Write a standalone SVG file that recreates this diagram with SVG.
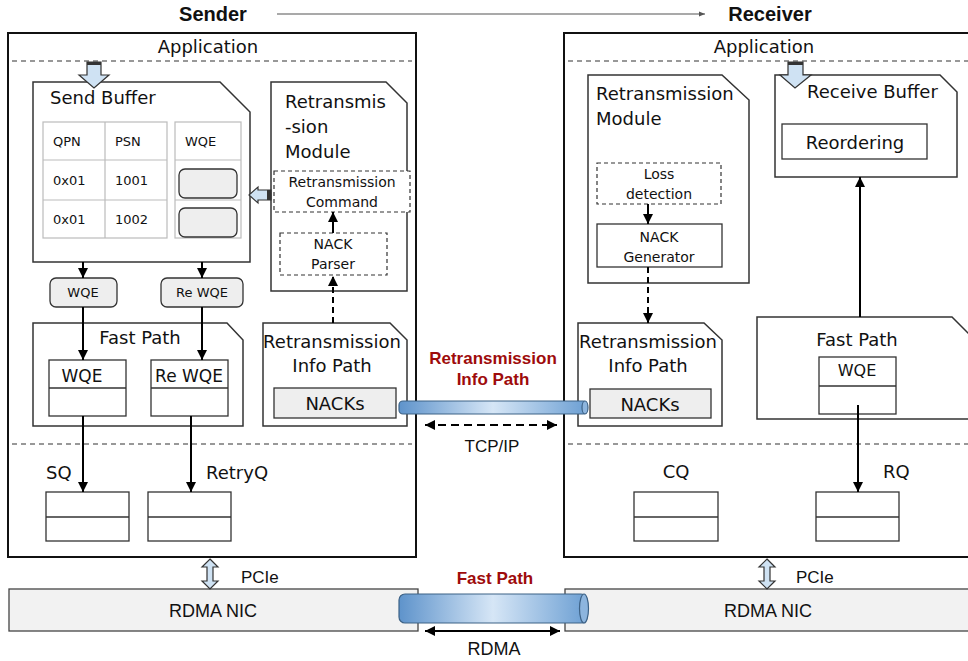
<svg xmlns="http://www.w3.org/2000/svg" width="968" height="661" viewBox="0 0 968 661">
<style>
.t{font-family:"DejaVu Sans",Verdana,sans-serif;fill:#111}
.a{font-family:"Liberation Sans",Arial,sans-serif;fill:#111}
.red{font-family:"Liberation Sans",Arial,sans-serif;font-weight:bold;fill:#9e0b0b;font-size:17px;text-anchor:middle}
.outer{fill:#fff;stroke:#111;stroke-width:2}
.note{fill:#fff;stroke:#333;stroke-width:1.5}
.box{fill:#fff;stroke:#333;stroke-width:1.3}
.gbox{fill:#eee;stroke:#333;stroke-width:1.3}
.dbox{fill:#fff;stroke:#333;stroke-width:1.2;stroke-dasharray:4 3}
.sep{stroke:#333;stroke-width:1.2;stroke-dasharray:5 4;fill:none}
.tab{fill:#fff;stroke:#bbb;stroke-width:1.2}
.arr{stroke:#000;stroke-width:2;fill:none;marker-end:url(#ah)}
.darr{stroke:#000;stroke-width:2;fill:none;stroke-dasharray:6 4;marker-end:url(#ah)}
.blk{fill:#cfe2f3;stroke:#333;stroke-width:1.2}
.nic{fill:#f2f2f2;stroke:#444;stroke-width:1.3}
.m{text-anchor:middle}
</style>
<defs>
<marker id="ah" viewBox="0 0 10 10" refX="10" refY="5" markerWidth="10" markerHeight="10" markerUnits="userSpaceOnUse" orient="auto-start-reverse"><path d="M0,0 L10,5 L0,10 z" fill="#000"/></marker>
<marker id="sm" viewBox="0 0 10 10" refX="10" refY="5" markerWidth="6" markerHeight="6" markerUnits="userSpaceOnUse" orient="auto"><path d="M0,1 L10,5 L0,9 z" fill="#555"/></marker>
<linearGradient id="pipe" x1="0" y1="0" x2="1" y2="0">
<stop offset="0" stop-color="#5e93cb"/><stop offset="0.5" stop-color="#d6e6f6"/><stop offset="1" stop-color="#6c9fd3"/>
</linearGradient>
</defs>

<!-- titles -->
<g id="titles">
<text x="213" y="21" class="a" style="font-weight:bold;font-size:20px" text-anchor="middle">Sender</text>
<text x="770" y="21" class="a" style="font-weight:bold;font-size:20px" text-anchor="middle">Receiver</text>
<line x1="277" y1="14" x2="705" y2="14" stroke="#555" stroke-width="1.2" marker-end="url(#sm)"/>
</g>

<!-- sender host -->
<g id="sender">
<rect x="8" y="33" width="408" height="524" class="outer"/>
<text x="208" y="53" class="t m" font-size="18">Application</text>
<line x1="12" y1="61" x2="412" y2="61" class="sep"/>
<line x1="12" y1="444" x2="412" y2="444" class="sep"/>
</g>

<g id="send-buffer">
<path d="M33,82 H220 L250,112 V262 H33 Z" class="note"/>
<text x="50" y="104" class="t" font-size="18">Send Buffer</text>
<rect x="43" y="122" width="124" height="116" class="tab"/>
<line x1="105" y1="122" x2="105" y2="238" stroke="#bbb" stroke-width="1.2"/>
<line x1="43" y1="160" x2="167" y2="160" stroke="#bbb" stroke-width="1.2"/>
<line x1="43" y1="200" x2="167" y2="200" stroke="#bbb" stroke-width="1.2"/>
<rect x="175" y="122" width="66" height="116" class="tab"/>
<line x1="175" y1="160" x2="241" y2="160" stroke="#bbb" stroke-width="1.2"/>
<line x1="175" y1="200" x2="241" y2="200" stroke="#bbb" stroke-width="1.2"/>
<text x="53" y="146" class="t" font-size="13">QPN</text>
<text x="115" y="146" class="t" font-size="13">PSN</text>
<text x="185" y="146" class="t" font-size="13">WQE</text>
<text x="53" y="185" class="t" font-size="13">0x01</text>
<text x="115" y="185" class="t" font-size="13">1001</text>
<text x="53" y="224" class="t" font-size="13">0x01</text>
<text x="115" y="224" class="t" font-size="13">1002</text>
<rect x="179" y="169" width="58" height="29" rx="6" class="gbox"/>
<rect x="179" y="208" width="58" height="29" rx="6" class="gbox"/>
</g>

<g id="app-to-sendbuf">
<polygon points="87,62 101,62 101,75 109,75 94,88 79,75 87,75" class="blk"/>
<rect x="87" y="62" width="14" height="3" fill="#333"/>
</g>

<g id="sender-retx-module">
<path d="M271,82 H386 L407,103 V291 H271 Z" class="note"/>
<text x="285" y="108" class="t" font-size="18">Retransmis</text>
<text x="285" y="133" class="t" font-size="18">-sion</text>
<text x="285" y="158" class="t" font-size="18">Module</text>
</g>

<g id="retx-command">
<rect x="274" y="171" width="136" height="41" class="dbox"/>
<text x="342" y="187" class="t m" font-size="14">Retransmission</text>
<text x="342" y="207" class="t m" font-size="14">Command</text>
</g>

<g id="nack-parser">
<rect x="280" y="233" width="107" height="42" class="dbox"/>
<text x="333" y="249" class="t m" font-size="14">NACK</text>
<text x="333" y="269" class="t m" font-size="14">Parser</text>
</g>

<g id="cmd-to-sendbuf">
<polygon points="271,190 271,200 258,200 258,203 249,195 258,187 258,190" class="blk"/>
<rect x="267" y="190" width="4" height="10" fill="#333"/>
</g>

<g id="pill-wqe">
<rect x="50" y="278" width="67" height="29" rx="6" class="gbox"/>
<text x="83" y="297" class="t m" font-size="13">WQE</text>
</g>
<g id="pill-rewqe">
<rect x="161" y="278" width="82" height="29" rx="6" class="gbox"/>
<text x="202" y="297" class="t m" font-size="13">Re WQE</text>
</g>

<g id="sender-fast-path">
<path d="M33,323 H227 L243,340 V426 H33 Z" class="note"/>
<text x="140" y="344" class="t m" font-size="18">Fast Path</text>
<rect x="49" y="360" width="77" height="56" class="box"/>
<line x1="49" y1="388" x2="126" y2="388" stroke="#333" stroke-width="1.3"/>
<text x="82" y="382" class="t m" font-size="17">WQE</text>
<rect x="151" y="360" width="77" height="56" class="box"/>
<line x1="151" y1="388" x2="228" y2="388" stroke="#333" stroke-width="1.3"/>
<text x="189" y="382" class="t m" font-size="17">Re WQE</text>
</g>

<g id="sender-info-path">
<path d="M263,323 H390 L407,340 V426 H263 Z" class="note"/>
<text x="332" y="348" class="t m" font-size="18">Retransmission</text>
<text x="332" y="372" class="t m" font-size="18">Info Path</text>
<rect x="274" y="388" width="122" height="30" class="gbox"/>
<text x="335" y="410" class="t m" font-size="18">NACKs</text>
</g>

<g id="sq">
<text x="46" y="479" class="t" font-size="18">SQ</text>
<rect x="46" y="492" width="83" height="49" class="box"/>
<line x1="46" y1="517" x2="129" y2="517" stroke="#333" stroke-width="1.3"/>
</g>
<g id="retryq">
<text x="206" y="479" class="t" font-size="18">RetryQ</text>
<rect x="148" y="492" width="83" height="49" class="box"/>
<line x1="148" y1="517" x2="231" y2="517" stroke="#333" stroke-width="1.3"/>
</g>

<!-- receiver host -->
<g id="receiver">
<rect x="564" y="33" width="420" height="524" class="outer"/>
<text x="764" y="53" class="t m" font-size="18">Application</text>
<line x1="568" y1="61" x2="968" y2="61" class="sep"/>
<line x1="568" y1="444" x2="968" y2="444" class="sep"/>
</g>

<g id="receiver-retx-module">
<path d="M588,75 H722 L749,100 V283 H588 Z" class="note"/>
<text x="596" y="100" class="t" font-size="18">Retransmission</text>
<text x="596" y="125" class="t" font-size="18">Module</text>
</g>

<g id="loss-detection">
<rect x="597" y="163" width="124" height="41" class="dbox"/>
<text x="659" y="179" class="t m" font-size="14">Loss</text>
<text x="659" y="199" class="t m" font-size="14">detection</text>
</g>

<g id="nack-generator">
<rect x="597" y="224" width="125" height="43" class="box"/>
<text x="659" y="242" class="t m" font-size="14">NACK</text>
<text x="659" y="262" class="t m" font-size="14">Generator</text>
</g>

<g id="receive-buffer">
<path d="M775,75 H940 L957,92 V177 H775 Z" class="note"/>
<text x="807" y="98" class="t" font-size="18">Receive Buffer</text>
<rect x="782" y="124" width="145" height="35" class="box"/>
<text x="855" y="149" class="t m" font-size="18">Reordering</text>
</g>

<g id="app-to-recvbuf">
<polygon points="788,62 803,62 803,75 811,75 795,88 780,75 788,75" class="blk"/>
<rect x="788" y="62" width="15" height="3" fill="#333"/>
</g>

<g id="receiver-info-path">
<path d="M578,323 H704 L722,340 V426 H578 Z" class="note"/>
<text x="648" y="348" class="t m" font-size="18">Retransmission</text>
<text x="648" y="372" class="t m" font-size="18">Info Path</text>
<rect x="590" y="389" width="121" height="29" class="gbox"/>
<text x="650" y="411" class="t m" font-size="18">NACKs</text>
</g>

<g id="receiver-fast-path">
<path d="M757,317 H952 L970,335 V419 H757 Z" class="note"/>
<text x="857" y="346" class="t m" font-size="18">Fast Path</text>
<rect x="819" y="357" width="77" height="57" class="box"/>
<line x1="819" y1="386" x2="896" y2="386" stroke="#333" stroke-width="1.3"/>
<text x="857" y="376" class="t m" font-size="16">WQE</text>
</g>

<g id="cq">
<text x="676" y="478" class="t m" font-size="18">CQ</text>
<rect x="634" y="492" width="84" height="49" class="box"/>
<line x1="634" y1="517" x2="718" y2="517" stroke="#333" stroke-width="1.3"/>
</g>
<g id="rq">
<text x="883" y="478" class="t" font-size="18">RQ</text>
<rect x="816" y="492" width="83" height="49" class="box"/>
<line x1="816" y1="517" x2="899" y2="517" stroke="#333" stroke-width="1.3"/>
</g>

<!-- NICs -->
<g id="sender-nic">
<rect x="9" y="589" width="409" height="42" class="nic"/>
<text x="213" y="617" class="a m" font-size="18">RDMA NIC</text>
</g>
<g id="receiver-nic">
<rect x="565" y="589" width="410" height="42" class="nic"/>
<text x="768" y="617" class="a m" font-size="18">RDMA NIC</text>
</g>

<!-- connectors -->
<g id="connectors">
<line x1="333" y1="233" x2="333" y2="212" class="arr"/>
<line x1="333" y1="323" x2="333" y2="276" class="darr"/>
<line x1="83" y1="262" x2="83" y2="278" class="arr"/>
<line x1="202" y1="262" x2="202" y2="278" class="arr"/>
<line x1="83" y1="307" x2="83" y2="360" class="arr"/>
<line x1="202" y1="307" x2="202" y2="360" class="arr"/>
<line x1="83" y1="416" x2="83" y2="492" class="arr"/>
<line x1="191" y1="416" x2="191" y2="492" class="arr"/>
<line x1="648" y1="204" x2="648" y2="224" class="arr"/>
<line x1="648" y1="267" x2="648" y2="323" class="darr"/>
<line x1="860" y1="317" x2="860" y2="177" class="arr"/>
<line x1="858" y1="405" x2="858" y2="492" class="arr"/>

<!-- retransmission info pipe -->
<rect x="399" y="401" width="188" height="13" rx="4" fill="url(#pipe)" stroke="#3d6286" stroke-width="1.2"/>
<ellipse cx="585" cy="407.5" rx="3" ry="6.5" fill="#8db5de" stroke="#3d6286" stroke-width="1.2"/>
<text x="493" y="364" class="red">Retransmission</text>
<text x="493" y="385" class="red">Info Path</text>
<line x1="425" y1="425" x2="557" y2="425" stroke="#000" stroke-width="2" stroke-dasharray="8 5" marker-start="url(#ah)" marker-end="url(#ah)"/>
<text x="492" y="452" class="a m" font-size="17">TCP/IP</text>

<!-- PCIe -->
<polygon points="210,559 218,567 213,567 213,581 218,581 210,589 202,581 207,581 207,567 202,567" class="blk"/>
<text x="241" y="583" class="a" font-size="17">PCIe</text>
<polygon points="767,559 775,567 770,567 770,581 775,581 767,589 759,581 764,581 764,567 759,567" class="blk"/>
<text x="796" y="583" class="a" font-size="17">PCIe</text>

<!-- fast path pipe -->
<rect x="399" y="594" width="188" height="29" rx="6" fill="url(#pipe)" stroke="#3d6286" stroke-width="1.2"/>
<ellipse cx="584" cy="608.5" rx="4.5" ry="14.5" fill="#8db5de" stroke="#3d6286" stroke-width="1.2"/>
<text x="495" y="584" class="red">Fast Path</text>
<line x1="425" y1="631" x2="560" y2="631" stroke="#000" stroke-width="2" marker-start="url(#ah)" marker-end="url(#ah)"/>
<text x="494" y="655" class="a m" font-size="18">RDMA</text>
</g>
</svg>
